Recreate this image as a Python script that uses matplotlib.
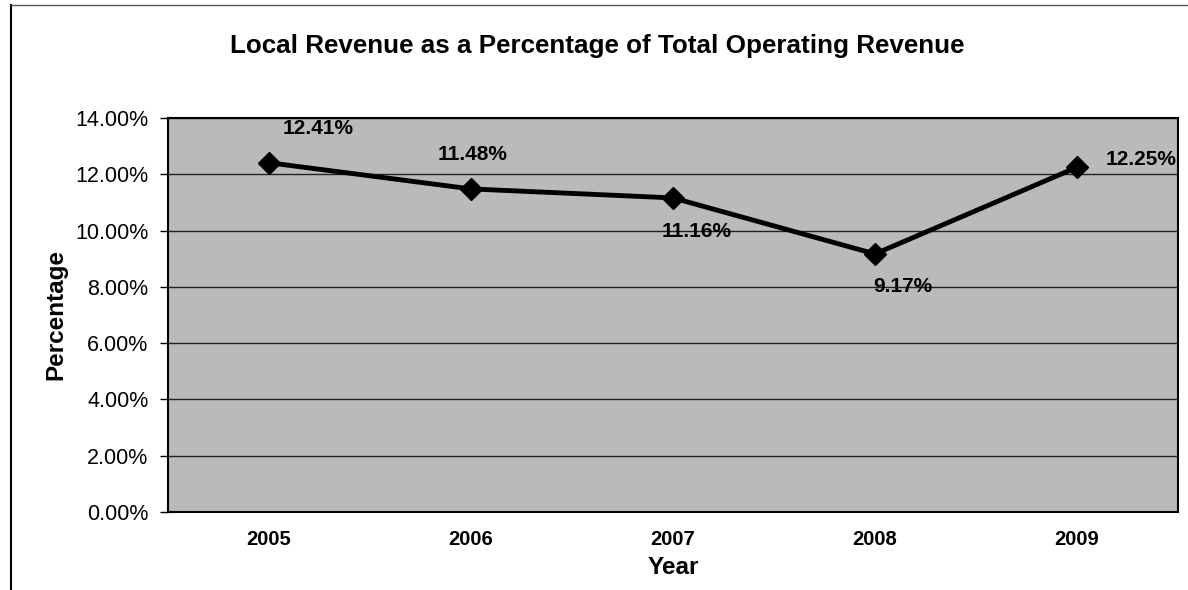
import matplotlib
matplotlib.use("Agg")
import matplotlib.pyplot as plt
from matplotlib.lines import Line2D

plt.rcParams['font.family'] = ['Liberation Sans', 'DejaVu Sans']

years = ["2005", "2006", "2007", "2008", "2009"]
values = [12.41, 11.48, 11.16, 9.17, 12.25]
labels = ["12.41%", "11.48%", "11.16%", "9.17%", "12.25%"]
yticks = [0, 2, 4, 6, 8, 10, 12, 14]
label_offsets = [(49, 34), (2, 34), (24, -34), (28, -33), (64, 8)]

fig = plt.figure(figsize=(11.88, 5.90), dpi=100)
ax = fig.add_axes([168/1188, 78/590, (1178-168)/1188, (512-118)/590])
ax.set_facecolor('#bababa')

x = list(range(len(years)))
ax.plot(x, values, color='black', lw=3.5, marker='D', ms=11, mfc='black', mec='black', zorder=3)
for xi, v, lab, off in zip(x, values, labels, label_offsets):
    ax.annotate(lab, (xi, v), xytext=off, textcoords='offset pixels',
                ha='center', va='center', fontsize=15, fontweight='bold', color='black', zorder=4)

ax.set_xlim(-0.5, len(years) - 0.5)
ax.set_ylim(0, 14)
ax.set_yticks(yticks)
ax.set_yticklabels([f"{t:.2f}%" for t in yticks], fontsize=15.5)
ax.set_xticks(x)
ax.set_xticklabels(years, fontsize=14.5, fontweight='bold')
ax.tick_params(axis='x', length=0, pad=13)
ax.tick_params(axis='y', length=6, width=1, pad=8, direction='out')
ax.grid(axis='y', color='#222222', lw=1)
ax.set_axisbelow(True)
for s in ax.spines.values():
    s.set_color('black')
    s.set_linewidth(1.5)

ax.set_xlabel("Year", fontsize=17.5, fontweight='bold', labelpad=5)
ax.set_ylabel("Percentage", fontsize=17.5, fontweight='bold', labelpad=6)

fig.text(597/1188, 1 - 46/590, "Local Revenue as a Percentage of Total Operating Revenue",
         ha='center', va='center', fontsize=18.7, fontweight='bold')

fig.add_artist(Line2D([11/1188, 11/1188], [0, 1 - 5/590], transform=fig.transFigure, color='black', lw=1.5))
fig.add_artist(Line2D([11/1188, 1], [1 - 5/590, 1 - 5/590], transform=fig.transFigure, color='#555555', lw=1))

fig.savefig("out.png", dpi=100)
